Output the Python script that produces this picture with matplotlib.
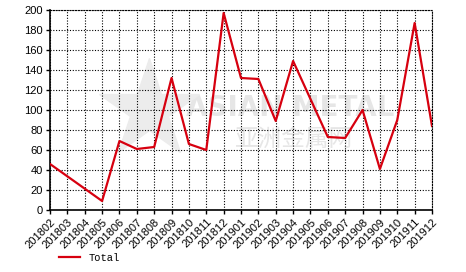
import matplotlib.pyplot as plt

months = ['201802', '201803', '201804', '201805', '201806', '201807', '201808',
          '201809', '201810', '201811', '201812', '201901', '201902', '201903',
          '201904', '201905', '201906', '201907', '201908', '201909', '201910',
          '201911', '201912']
# 201803 and 201804 have no value, the line goes straight across them
data_months = ['201802', '201805', '201806', '201807', '201808', '201809', '201810',
               '201811', '201812', '201901', '201902', '201903', '201904', '201905',
               '201906', '201907', '201908', '201909', '201910', '201911', '201912']
total = [46, 9, 69, 61, 63, 132, 66, 60, 197, 132, 131, 89, 149, 111, 73, 72,
         100, 41, 90, 187, 84]

fig = plt.figure(figsize=(4.66, 2.72), dpi=100)
ax = fig.add_axes([50 / 466, 1 - 210 / 272, 382 / 466, 200 / 272])

# watermark
ax.text(0.63, 0.51, 'ASIAN METAL', transform=ax.transAxes, ha='center', va='center',
        fontsize=20, fontweight='bold', color='#e6e6e6', zorder=0)
ax.text(0.64, 0.355, '亚洲金属网', transform=ax.transAxes, ha='center', va='center',
        fontsize=17, color='#e6e6e6', zorder=0, family=['Noto Sans CJK SC', 'DejaVu Sans'])
ax.plot([0.26], [0.5], transform=ax.transAxes, marker='*', markersize=75,
        color='#ececec', zorder=0)

xpos = [months.index(m) for m in data_months]
line, = ax.plot(xpos, total, color='#d7000f', linewidth=1.6, zorder=3)

ax.set_xlim(0, len(months) - 1)
ax.set_ylim(0, 200)
ax.set_yticks(range(0, 201, 20))
ax.set_xticks(range(len(months)))
ax.set_xticklabels(months, rotation=45, ha='right', rotation_mode='anchor')
ax.tick_params(axis='both', labelsize=8, length=3, width=1, pad=2)
for lbl in ax.get_xticklabels() + ax.get_yticklabels():
    lbl.set_family('Liberation Sans')

ax.grid(True, color='black', linestyle=(0, (1, 1.5)), linewidth=0.8)
ax.spines['top'].set_linestyle((0, (1, 1.5)))
ax.spines['right'].set_linestyle((0, (1, 1.5)))
ax.spines['top'].set_linewidth(0.8)
ax.spines['right'].set_linewidth(0.8)
ax.spines['left'].set_linewidth(1.2)
ax.spines['bottom'].set_linewidth(1.2)

fig.legend([line], ['Total'], loc='lower left', bbox_to_anchor=(50 / 466, 0.0),
           frameon=False, handlelength=2, prop={'family': 'Liberation Mono', 'size': 7.5})

fig.savefig('out.png', dpi=100)
